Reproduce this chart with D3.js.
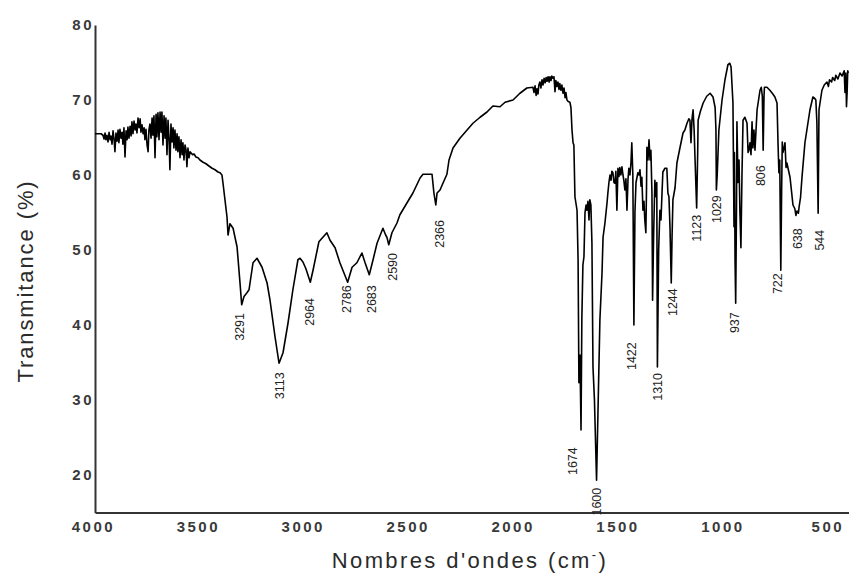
<!DOCTYPE html>
<html>
<head>
<meta charset="utf-8">
<script src="https://cdn.jsdelivr.net/npm/d3@7"></script>
<style>
    body { margin: 0; background: #fff; }
    #ir { width: 849px; height: 575px; }
    .tick text { font-family: "Liberation Sans", Arial, sans-serif; font-weight: bold; font-size: 15px; fill: #3a3a3a; letter-spacing: 2.5px; }
    .axis path { stroke: #333; stroke-width: 2; }
    .title { font-family: "Liberation Sans", Arial, sans-serif; font-size: 22px; fill: #2a2a2a; letter-spacing: 2.4px; }
    .peak { font-family: "Liberation Sans", Arial, sans-serif; font-size: 12.5px; fill: #222; }
    .line { fill: none; stroke: #000; stroke-width: 1.6; stroke-linejoin: round; }
</style>
</head>
<body>
<div id="ir"></div>
<script>
// spectrum: [wavenumber (cm-1), transmittance (%)]
const spectrum = [
    [3990,65.5],[3980,65.5],[3971,65.5],[3961,65.5],[3952,65.3],[3947,64.8],[3942,65.6],[3938,64.7],[3933,65.3],[3928,64.4],
    [3923,65.7],[3918,64.7],[3914,65.2],[3909,64.1],[3904,65.9],[3899,64.7],[3895,63.1],[3890,65.6],[3885,64.5],[3880,66.0],
    [3876,64.3],[3871,66.1],[3866,64.9],[3861,65.7],[3857,64.1],[3852,66.3],[3847,62.4],[3842,65.9],[3837,64.7],[3833,66.4],
    [3828,64.9],[3823,66.5],[3818,65.2],[3814,67.1],[3809,65.5],[3804,67.2],[3799,66.0],[3795,66.8],[3790,65.6],[3785,67.6],
    [3780,66.3],[3775,67.5],[3771,65.7],[3766,66.7],[3761,65.5],[3756,66.3],[3752,64.7],[3747,66.1],[3742,64.0],[3737,63.1],
    [3733,66.0],[3728,66.8],[3723,64.9],[3718,67.6],[3714,65.3],[3709,67.9],[3704,62.3],[3699,68.1],[3695,65.1],[3690,68.3],
    [3685,64.7],[3680,68.4],[3675,65.7],[3671,68.4],[3666,64.0],[3661,67.9],[3656,64.9],[3652,67.6],[3647,62.7],[3642,67.3],
    [3637,64.7],[3633,60.7],[3628,66.8],[3623,64.4],[3618,66.3],[3614,63.6],[3609,66.0],[3604,63.3],[3599,65.5],[3595,63.1],
    [3590,65.1],[3585,62.3],[3580,64.7],[3575,62.7],[3571,64.3],[3566,62.0],[3561,64.0],[3556,63.3],[3552,61.1],[3547,63.6],
    [3542,62.3],[3537,63.1],[3525,62.7],[3518,62.8],[3509,62.4],[3499,62.3],[3490,62.0],[3475,61.7],[3461,61.5],[3447,61.2],
    [3432,60.9],[3418,60.7],[3404,60.4],[3394,60.3],[3385,60.0],
    [3380,58.9],[3361,54.4],[3356,52.0],[3347,53.5],[3337,53.1],[3332,52.9],[3313,50.4],[3299,45.6],[3291,42.7],[3280,43.8],
    [3266,44.3],[3256,44.7],[3237,48.3],[3218,48.9],[3194,47.7],[3170,45.6],[3156,43.3],[3132,38.4],[3113,34.9],[3094,36.3],
    [3070,40.3],[3047,44.7],[3023,48.7],[3013,48.9],[2999,48.4],[2985,47.5],[2964,45.7],[2951,47.3],[2923,51.1],[2885,52.3],
    [2870,51.3],[2846,50.3],[2823,48.3],[2786,45.7],[2765,47.7],[2742,48.3],[2718,49.6],[2703,48.3],[2683,46.7],[2665,48.7],
    [2646,50.9],[2618,52.9],[2605,52.0],[2599,51.7],[2590,50.7],[2575,52.3],[2551,53.6],[2537,54.7],[2503,56.3],[2475,57.6],
    [2441,59.6],[2427,60.1],[2384,60.1],[2375,57.6],[2366,56.0],[2360,57.6],[2346,58.0],[2332,58.9],[2313,60.1],[2303,62.0],
    [2284,63.6],[2251,64.9],[2217,66.0],[2189,66.9],[2155,67.7],[2122,68.4],[2094,69.2],[2060,69.1],[2036,69.7],[1998,70.0],
    [1965,70.9],[1932,71.6],[1903,71.7],[1898,71.0],[1893,71.9],[1888,70.6],[1884,71.5],[1879,70.8],[1875,72.0],[1870,72.4],
    [1865,71.6],[1860,72.7],[1855,72.0],[1850,72.9],[1845,72.3],[1840,73.0],[1836,72.5],[1831,73.1],[1826,72.4],[1822,73.1],
    [1817,72.6],[1813,73.2],[1808,72.9],[1803,73.1],[1798,71.1],[1794,72.6],[1789,71.8],[1784,72.4],[1779,71.4],[1775,72.2],
    [1770,71.3],[1765,72.0],[1760,70.9],[1755,71.6],[1750,70.3],[1746,71.0],[1741,70.0],
    [1735,69.8],[1727,69.7],[1722,69.0],[1717,66.0],[1712,64.3],[1708,64.0],[1703,57.1],[1693,55.3],[1688,48.7],[1684,32.3],
    [1679,36.0],[1674,26.0],[1670,40.9],[1665,48.0],[1660,49.1],[1655,55.0],[1650,56.0],[1646,55.3],[1641,56.5],[1636,54.0],
    [1632,56.7],[1627,56.0],[1622,50.9],[1617,34.4],[1610,30.0],[1600,19.3],[1593,28.7],[1584,40.7],[1574,46.9],[1569,51.7],
    [1560,53.6],[1550,56.3],[1546,57.6],[1541,59.0],[1536,60.0],[1531,59.3],[1527,60.5],[1522,60.3],[1517,59.0],[1512,58.9],
    [1508,60.5],[1503,55.3],[1498,60.9],[1493,59.8],[1489,61.0],[1484,60.0],[1479,61.1],[1474,60.0],[1470,59.3],[1465,58.0],
    [1460,59.5],[1455,55.3],[1450,59.5],[1446,60.9],[1441,60.0],[1436,61.6],[1432,64.3],[1427,60.0],[1422,40.0],[1417,55.0],
    [1412,59.0],[1403,60.3],[1398,60.0],[1393,60.7],[1388,58.5],[1384,59.7],[1379,55.3],[1374,56.5],[1370,54.0],[1365,52.3],
    [1362,58.0],[1360,63.7],[1355,62.0],[1350,64.7],[1345,62.0],[1341,63.3],[1336,57.6],[1333,43.3],[1328,52.0],[1322,59.3],
    [1317,57.1],[1313,59.0],[1310,34.4],[1304,50.0],[1298,55.3],[1293,54.0],[1288,57.6],[1284,60.4],[1274,60.9],[1265,60.9],
    [1260,57.6],[1255,57.1],[1250,53.0],[1244,45.6],[1240,52.0],[1236,56.7],[1226,58.3],[1217,61.6],[1202,63.7],[1188,65.6],
    [1179,66.0],[1169,66.9],[1160,67.5],[1155,67.3],[1150,64.3],[1145,67.5],[1140,68.7],[1135,66.0],[1131,62.4],[1123,55.6],
    [1118,63.0],[1116,67.3],[1105,68.5],[1092,69.6],[1075,70.5],[1059,70.9],[1045,70.4],[1035,69.0],[1031,66.0],[1029,58.0],
    [1025,60.0],[1017,66.0],[1002,70.0],[988,72.7],[974,74.7],[965,74.9],[959,74.4],[950,69.6],[945,53.1],[943,63.0],
    [940,48.7],[937,42.9],[933,56.0],[931,67.1],[926,59.0],[921,62.0],[917,55.3],[912,50.3],[907,60.0],[902,67.3],
    [893,67.7],[883,66.9],[878,63.0],[874,63.3],[869,64.3],[864,62.7],[859,67.1],[855,63.6],[850,66.0],[845,63.3],
    [835,68.7],[821,71.3],[815,71.7],[810,70.5],[806,63.3],[802,70.5],[800,71.7],[788,71.7],[774,71.3],[760,70.8],
    [750,70.4],[740,69.6],[735,64.0],[731,60.3],[727,62.0],[722,47.3],[718,58.0],[715,64.4],[712,63.0],[707,63.5],
    [702,64.3],[697,61.0],[693,61.6],[678,59.7],[664,56.0],[655,55.5],[650,54.6],[645,55.2],[638,54.9],[635,55.7],
    [628,57.0],[621,59.7],[607,64.3],[595,66.5],[583,68.7],[569,70.4],[560,70.2],[555,70.0],[550,67.0],[544,54.9],
    [540,68.7],[526,71.3],[515,72.0],[502,72.4],[495,71.8],[490,72.7],[480,72.4],[475,73.0],[465,72.6],[460,73.3],
    [450,72.8],[440,73.6],[430,73.2],[420,73.9],[416,71.0],[412,73.6],[409,69.1],[406,71.0],[403,73.9],[400,73.6]
]

// peak annotations
const peakNames = ["3291","3113","2964","2786","2683","2590","2366","1674","1600","1422","1310","1244","1123","1029","937","806","722","638","544"]
const peakLabelWn = [3299,3108,2966,2789,2670,2570,2346,1712,1598,1431,1307,1238,1122,1026,940,817,736,640,535]
const peakLabelT = [41.6,33.7,43.6,45.3,45.3,49.6,54.0,23.7,18.3,37.7,33.6,44.9,54.7,57.3,41.7,61.3,46.9,52.9,52.7]

const xTicks = [4000, 3500, 3000, 2500, 2000, 1500, 1000, 500]
const yTicks = [20, 30, 40, 50, 60, 70, 80]

const area = document.querySelector('#ir')
const svg = d3.select(area).append('svg')
    .attr('width', 849)
    .attr('height', 575)

const xScale = d3.scaleLinear()
    .domain([3990, 397])
    .range([95, 849])

const yScale = d3.scaleLinear()
    .domain([15, 80])
    .range([512.5, 25])

svg.append('g')
    .attr('class', 'axis')
    .attr('transform', `translate(0,${yScale(15)})`)
    .call(d3.axisBottom(xScale).tickValues(xTicks).tickFormat(d3.format('d')).tickSize(0).tickSizeOuter(0).tickPadding(9))

svg.append('g')
    .attr('class', 'axis')
    .attr('transform', `translate(${xScale(3990)},0)`)
    .call(d3.axisLeft(yScale).tickValues(yTicks).tickFormat(d3.format('d')).tickSize(0).tickSizeOuter(0).tickPadding(1))

const line = d3.line()
    .x(d => xScale(d[0]))
    .y(d => yScale(d[1]))

svg.append('path')
    .datum(spectrum)
    .attr('class', 'line')
    .attr('d', line)

// vertical peak labels under each band
svg.selectAll('.peak')
    .data(peakNames)
    .enter()
    .append('text')
        .attr('class', 'peak')
        .attr('transform', (d, i) => `translate(${xScale(peakLabelWn[i])},${yScale(peakLabelT[i])}) rotate(-90)`)
        .attr('text-anchor', 'end')
        .attr('dominant-baseline', 'central')
        .text(d => d)

// x axis title
const xt = svg.append('text')
    .attr('class', 'title')
    .attr('x', 470)
    .attr('y', 568)
    .attr('text-anchor', 'middle')
xt.append('tspan').text("Nombres d'ondes (cm")
xt.append('tspan').attr('dy', -9).attr('font-size', 13).text('-')
xt.append('tspan').attr('dy', 9).text(')')

// y axis title
svg.append('text')
    .attr('class', 'title')
    .attr('transform', 'translate(33,281) rotate(-90)')
    .attr('text-anchor', 'middle')
    .style('letter-spacing', '1.9px')
    .text('Transmitance (%)')
</script>
</body>
</html>
